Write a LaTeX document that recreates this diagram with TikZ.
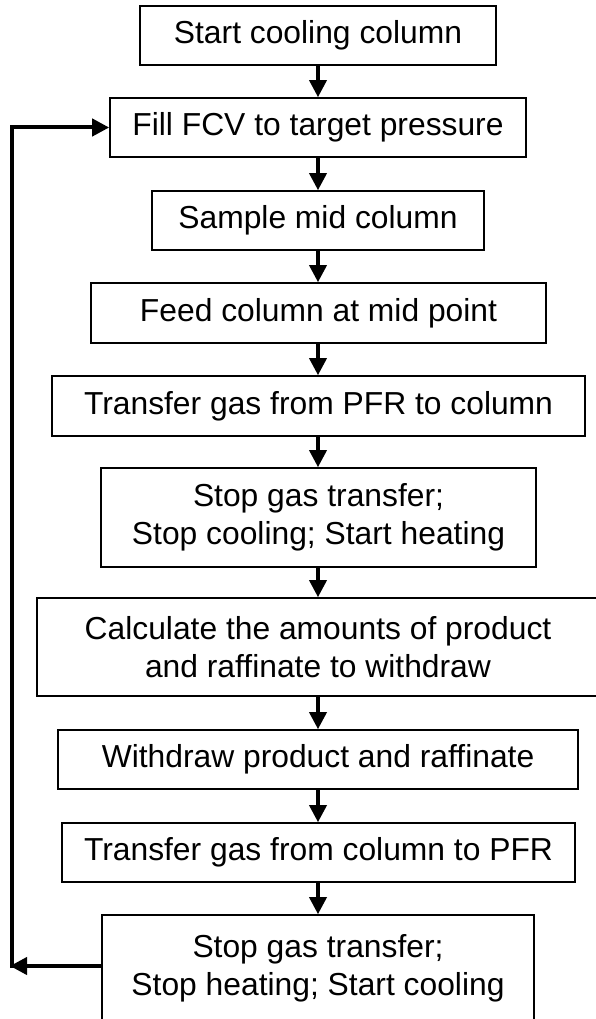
\documentclass[tikz,border=0pt]{standalone}
\usepackage{fontspec}
\setmainfont{Liberation Sans}
\usetikzlibrary{arrows.meta}
\begin{document}
\begin{tikzpicture}[x=1pt,y=-1pt,
  stepbox/.style={draw=black, line width=1.6pt, inner sep=0pt, align=center,
    font=\fontsize{31.8}{38}\selectfont},
  flow/.style={line width=3.5pt, -{Triangle[length=17pt,width=17pt]}},
  back/.style={line width=4pt, -{Triangle[length=17pt,width=17pt]}}]
\useasboundingbox (0,0) rectangle (595,1019);
\node[stepbox, minimum width=356pt, minimum height=59pt] (b1) at (318,35.5) {Start cooling column};
\node[stepbox, minimum width=416pt, minimum height=59pt] (b2) at (318,127.5) {Fill FCV to target pressure};
\node[stepbox, minimum width=332pt, minimum height=59pt] (b3) at (318,220.5) {Sample mid column};
\node[stepbox, minimum width=455pt, minimum height=60pt] (b4) at (318.5,313) {Feed column at mid point};
\node[stepbox, minimum width=533pt, minimum height=60pt] (b5) at (318.5,406) {Transfer gas from PFR to column};
\node[stepbox, minimum width=435pt, minimum height=99pt] (b6) at (318.5,517.5) {Stop gas transfer;\\Stop cooling; Start heating};
\node[stepbox, minimum width=562pt, minimum height=98pt] (b7) at (318,647) {Calculate the amounts of product\\and raffinate to withdraw};
\node[stepbox, minimum width=520pt, minimum height=59pt] (b8) at (318,759.5) {Withdraw product and raffinate};
\node[stepbox, minimum width=513pt, minimum height=59pt] (b9) at (318.5,852.5) {Transfer gas from column to PFR};
\node[stepbox, minimum width=432pt, minimum height=107pt] (b10) at (318,968.5) {Stop gas transfer;\\Stop heating; Start cooling};
\draw[flow] (b1.south -| 318,0) -- (b2.north -| 318,0);
\draw[flow] (b2.south -| 318,0) -- (b3.north -| 318,0);
\draw[flow] (b3.south -| 318,0) -- (b4.north -| 318,0);
\draw[flow] (b4.south -| 318,0) -- (b5.north -| 318,0);
\draw[flow] (b5.south -| 318,0) -- (b6.north -| 318,0);
\draw[flow] (b6.south -| 318,0) -- (b7.north -| 318,0);
\draw[flow] (b7.south -| 318,0) -- (b8.north -| 318,0);
\draw[flow] (b8.south -| 318,0) -- (b9.north -| 318,0);
\draw[flow] (b9.south -| 318,0) -- (b10.north -| 318,0);
\coordinate (lout) at (b10.west |- 0,966);
\coordinate (ltip) at (10,966);
\coordinate (lup) at (12,968);
\draw[back] (lout) -- (ltip);
\draw[back] (lup) |- (b2.west);
\end{tikzpicture}
\end{document}
